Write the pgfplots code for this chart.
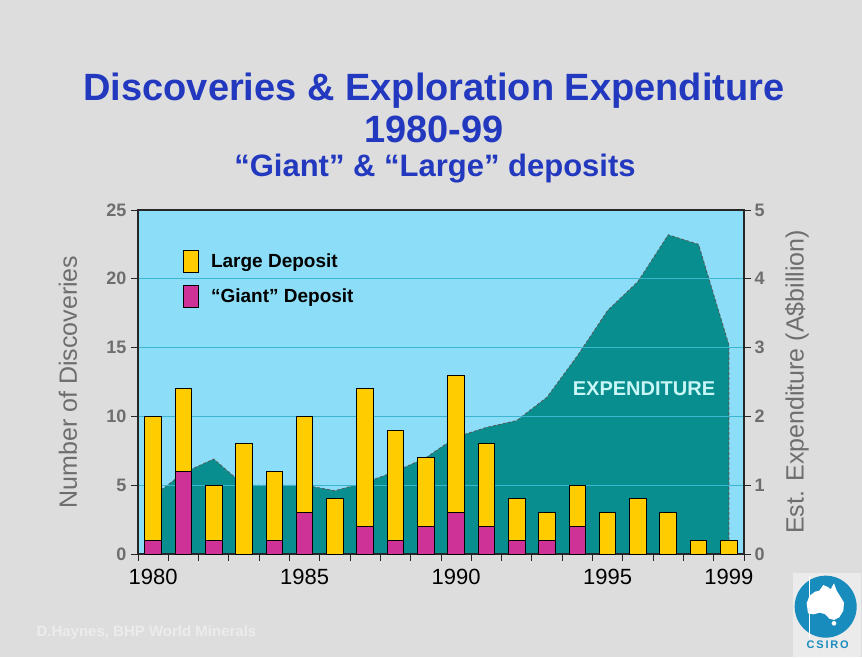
\documentclass[border=0pt]{standalone}
\usepackage{pgfplots}
\pgfplotsset{compat=1.18}
\usepackage{fontspec}
\setmainfont{Liberation Sans}
\definecolor{bg}{RGB}{221,221,221}
\definecolor{plotbg}{RGB}{140,222,248}
\definecolor{tealarea}{RGB}{8,142,142}
\definecolor{gridc}{RGB}{60,182,208}
\definecolor{yel}{RGB}{255,204,0}
\definecolor{mag}{RGB}{206,50,150}
\definecolor{titleblue}{RGB}{34,56,190}
\definecolor{labgray}{RGB}{110,110,110}
\definecolor{csiroblue}{RGB}{25,140,190}
\definecolor{expcyan}{RGB}{200,245,245}
\begin{document}
\begin{tikzpicture}[x=1pt,y=1pt]
\fill[bg] (0,0) rectangle (862,657);
\useasboundingbox (0,0) rectangle (862,657);
% titles
\node[font=\fontsize{38}{40}\selectfont\bfseries, text=titleblue] at (434,566) {Discoveries \& Exploration Expenditure};
\node[font=\fontsize{38}{40}\selectfont\bfseries, text=titleblue] at (434,528) {1980-99};
\node[font=\fontsize{31}{34}\selectfont\bfseries, text=titleblue] at (435,488) {“Giant” \& “Large” deposits};

% expenditure axis (right)
\begin{axis}[
  at={(138pt,103pt)}, anchor=south west, scale only axis,
  width=606pt, height=344pt,
  xmin=1979.5, xmax=1999.5, ymin=0, ymax=5,
  axis background/.style={fill=plotbg},
  xtick=\empty,
  ytick={0,1,2,3,4,5}, ytick pos=right, yticklabel pos=right,
  ytick align=center, major tick length=14pt,
  tick style={draw=black!85, line width=1pt},
  axis line style={draw=black!85, line width=1.2pt},
  yticklabel style={font=\fontsize{18}{20}\selectfont\bfseries, text=labgray},
  /pgf/number format/assume math mode=true,
  ylabel={Est. Expenditure (A\$billion)},
  ylabel style={font=\fontsize{25}{28}\selectfont, text=labgray, at={(axis description cs:1.0875,0.5)}, anchor=center},
]
\addplot[fill=tealarea, draw=black!65, densely dashed, line width=0.8pt] coordinates {
(1980,0.84) (1981,1.18) (1982,1.38) (1983,1.0) (1984,1.0) (1985,1.0)
(1986,0.92) (1987,1.04) (1988,1.2) (1989,1.4) (1990,1.7) (1991,1.84)
(1992,1.94) (1993,2.28) (1994,2.88) (1995,3.54) (1996,3.96) (1997,4.64)
(1998,4.5) (1999,3.04)} \closedcycle;
\end{axis}

% discoveries axis (left)
\begin{axis}[
  at={(138pt,103pt)}, anchor=south west, scale only axis,
  width=606pt, height=344pt,
  xmin=1979.5, xmax=1999.5, ymin=0, ymax=25,
  ybar stacked, bar width=0.55,
  ytick={0,5,10,15,20,25}, minor ytick={0,5,10,15,20,25},
  ytick pos=left, ytick align=outside,
  xtick={1980,1985,1990,1995,1999},
  minor xtick={1979.5,1980.5,...,1999.5},
  xtick pos=bottom, xtick align=outside,
  major tick length=0pt, minor tick length=7pt,
  tick style={draw=black!85, line width=1pt},
  minor tick style={draw=black!85, line width=1pt},
  axis line style={draw=black!85, line width=1.2pt},
  ymajorgrids, grid style={draw=gridc, line width=1.2pt},
  yticklabel style={font=\fontsize{18}{20}\selectfont\bfseries, text=labgray, xshift=-8pt},
  xticklabel style={font=\fontsize{22}{24}\selectfont, text=black, yshift=-12pt},
  /pgf/number format/assume math mode=true,
  /pgf/number format/1000 sep={},
  ylabel={Number of Discoveries},
  ylabel style={font=\fontsize{25}{28}\selectfont, text=labgray, at={(axis description cs:-0.1155,0.5)}, anchor=center},
  legend image code/.code={\draw[#1, draw=black, line width=1pt] (0pt,-11pt) rectangle (15pt,11pt);},
  reverse legend,
  legend style={at={(axis description cs:0.074,0.884)}, anchor=north west, draw=none, fill=none,
    font=\fontsize{19}{22}\selectfont\bfseries, row sep=12pt, inner sep=0pt,
    /tikz/every odd column/.append style={column sep=10pt}},
  legend cell align=left,
]
\addplot[fill=mag, draw=black, line width=1pt] coordinates {
(1980,1) (1981,6) (1982,1) (1983,0) (1984,1) (1985,3) (1986,0) (1987,2)
(1988,1) (1989,2) (1990,3) (1991,2) (1992,1) (1993,1) (1994,2) (1995,0)
(1996,0) (1997,0) (1998,0) (1999,0)};
\addplot[fill=yel, draw=black, line width=1pt] coordinates {
(1980,9) (1981,6) (1982,4) (1983,8) (1984,5) (1985,7) (1986,4) (1987,10)
(1988,8) (1989,5) (1990,10) (1991,6) (1992,3) (1993,2) (1994,3) (1995,3)
(1996,4) (1997,3) (1998,1) (1999,1)};
\legend{“Giant” Deposit, Large Deposit}
\end{axis}

\node[font=\fontsize{20}{22}\selectfont\bfseries, text=expcyan] at (644,268) {EXPENDITURE};

% credit
\node[anchor=west, font=\fontsize{15}{17}\selectfont\bfseries, text=white!45!bg] at (33,24) {D.Haynes, BHP World Minerals};

% logo
\begin{scope}[shift={(760,97)}, x=0.3333pt, y=-0.3333pt]
\fill[white!40!bg] (100,40) rectangle (302,291);
\fill[csiroblue] (197,140) circle[radius=93];
\fill[white] (140,130) -- (148,108) -- (165,95) -- (178,92) -- (190,75) -- (205,82) -- (212,88) -- (222,70) -- (230,92) -- (240,108) -- (252,128) -- (250,152) -- (238,172) -- (222,180) -- (208,176) -- (196,163) -- (180,158) -- (160,163) -- (144,160) -- cycle;
\fill[white] (222,190) circle[radius=7];
\draw[white, line width=1pt] (148,47) -- (148,233);
\node[font=\fontsize{11}{12}\selectfont\bfseries, text=csiroblue] at (203,254) {C\,S\,I\,R\,O};
\end{scope}
\end{tikzpicture}
\end{document}
